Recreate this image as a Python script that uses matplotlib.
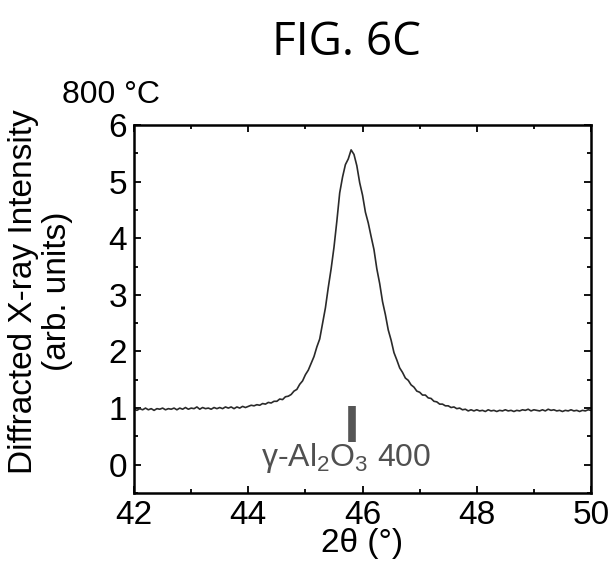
import numpy as np
import matplotlib
matplotlib.use("Agg")
import matplotlib.pyplot as plt

plt.rcParams["font.family"] = ["Liberation Sans", "DejaVu Sans"]
plt.rcParams["mathtext.fontset"] = "custom"
plt.rcParams["mathtext.rm"] = "Liberation Sans"

# Scan grid: 42-50 degrees in 0.05 degree steps
scan_start = 42.0
scan_step = 0.05

intensity = [
    # 42.00 - 44.00
    0.98, 0.96, 0.99, 0.97, 1.00, 0.97, 0.99, 0.96, 0.99, 0.98,
    1.00, 0.97, 0.99, 0.98, 1.00, 0.97, 1.00, 0.98, 1.01, 0.98,
    1.00, 0.99, 1.02, 0.98, 1.01, 0.99, 1.00, 0.98, 1.01, 0.99,
    1.01, 0.99, 1.02, 1.00, 1.02, 0.99, 1.02, 1.00, 1.03, 1.01,
    1.03,
    # 44.05 - 47.90
    1.05, 1.04, 1.06, 1.05, 1.08, 1.07, 1.10, 1.09, 1.12, 1.12,
    1.16, 1.15, 1.20, 1.21, 1.24, 1.30, 1.33, 1.42, 1.48, 1.59,
    1.67, 1.79, 1.91, 2.08, 2.22, 2.49, 2.77, 3.13, 3.46, 3.84,
    4.30, 4.80, 5.08, 5.30, 5.40, 5.56, 5.48, 5.28, 4.98, 4.76,
    4.46, 4.27, 4.03, 3.80, 3.46, 3.20, 2.88, 2.65, 2.38, 2.20,
    1.98, 1.85, 1.71, 1.63, 1.53, 1.49, 1.41, 1.37, 1.30, 1.28,
    1.23, 1.23, 1.18, 1.17, 1.12, 1.11, 1.07, 1.07, 1.04, 1.04,
    1.01, 1.02, 0.99, 1.00, 0.97, 0.98, 0.95, 0.97,
    # 47.95 - 50.00
    0.95, 0.97, 0.95, 0.96, 0.94, 0.97, 0.95, 0.96, 0.94, 0.96,
    0.95, 0.97, 0.95, 0.96, 0.94, 0.96, 0.95, 0.97, 0.96, 0.98,
    0.95, 0.97, 0.96, 0.95, 0.97, 0.95, 0.98, 0.96, 0.97, 0.95,
    0.96, 0.94, 0.96, 0.95, 0.97, 0.95, 0.96, 0.94, 0.96, 0.95,
    0.97, 0.96,
]
two_theta = np.round(scan_start + scan_step * np.arange(len(intensity)), 2)

# Reference reflection for gamma-Al2O3 (400)
ref_position = 45.82
ref_low = 0.40
ref_high = 1.03
ref_label = r"γ-Al$\mathregular{_2}$O$\mathregular{_3}$ 400"

x_ticks = [42, 44, 46, 48, 50]
y_ticks = [0, 1, 2, 3, 4, 5, 6]

fig = plt.figure(figsize=(6.15, 5.68), dpi=100)
ax = fig.add_axes([0.218, 0.132, 0.743, 0.648])

ax.plot(two_theta, intensity, color="#2a2a2a", lw=1.2)
ax.vlines(ref_position, ref_low, ref_high, color="#555555", lw=5.5)
ax.text(ref_position - 0.1, 0.12, ref_label, ha="center", va="center",
        fontsize=23, color="#505050")

ax.set_xlim(42, 50)
ax.set_ylim(-0.47, 6)
ax.set_xticks(x_ticks)
ax.set_yticks(y_ticks)
ax.set_xticks(np.arange(43, 50, 2), minor=True)
ax.set_yticks(np.arange(-0.5, 6, 1.0), minor=True)
ax.tick_params(which="both", direction="in", top=True, right=True,
               labelsize=24, width=1.3)
ax.tick_params(which="major", length=5, pad=5)
ax.tick_params(which="minor", length=3)
for s in ax.spines.values():
    s.set_linewidth(1.8)

ax.set_xlabel("2θ (°)", fontsize=24, labelpad=-2)

fig.text(0.066, 0.487, "Diffracted X-ray Intensity\n(arb. units)",
         rotation=90, ha="center", va="center", fontsize=24,
         multialignment="center", linespacing=1.15)
fig.text(0.101, 1 - 103 / 568, "800 °C", fontsize=23, va="baseline")
fig.text(0.563, 1 - 55 / 568, "FIG. 6C", fontsize=33, ha="center",
         va="baseline", family=["Open Sans", "DejaVu Sans"])

fig.savefig("out.png", dpi=100)
